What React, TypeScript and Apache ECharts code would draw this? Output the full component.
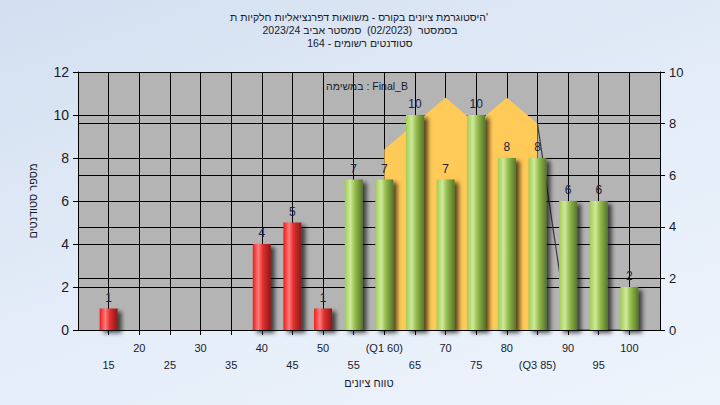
import React, { useEffect, useRef } from "react";
import * as echarts from "echarts";

// ---- data ----
const categories = [15, 20, 25, 30, 35, 40, 45, 50, 55, 60, 65, 70, 75, 80, 85, 90, 95, 100];
const counts = [1, 0, 0, 0, 0, 4, 5, 1, 7, 7, 10, 7, 10, 8, 8, 6, 6, 2];
const tickLabels = ["15", "20", "25", "30", "35", "40", "45", "50", "55", "(Q1 60)", "65", "70", "75", "80", "(Q3 85)", "90", "95", "100"];
const passMark = 55;
const bandX = [60, 65, 70, 75, 80, 85];
const bandValues = [7, 8, 9, 8, 9, 8];
const tailX = [85, 90, 95, 100];
const tailValues = [8, 0, 0, 0];

const titleLines = [
  "היסטוגרמת ציונים בקורס - משוואות דפרנציאליות חלקיות ת'",
  "בסמסטר  (02/2023)  סמסטר אביב 2023/24",
  "סטודנטים רשומים - 164",
];
const subLabel = "במשימה : Final_B";
const xName = "טווח ציונים";
const yName = "מספר סטודנטים";

const FONT = "'Liberation Sans', 'DejaVu Sans', Arial, sans-serif";
const TXT = "#1a1a2a";

const redGrad = new echarts.graphic.LinearGradient(0, 0, 1, 0, [
  { offset: 0, color: "#ee1c1c" },
  { offset: 0.32, color: "#ff7c7c" },
  { offset: 0.55, color: "#e43030" },
  { offset: 1, color: "#8c1818" },
]);
const greenGrad = new echarts.graphic.LinearGradient(0, 0, 1, 0, [
  { offset: 0, color: "#a2cc52" },
  { offset: 0.32, color: "#cfe99c" },
  { offset: 0.58, color: "#94bb4c" },
  { offset: 1, color: "#56762a" },
]);

export default function App() {
  const ref = useRef<HTMLDivElement>(null);
  useEffect(() => {
    if (!ref.current) return;
    const chart = echarts.init(ref.current, undefined, { renderer: "svg" });
    const barData = categories
      .map((c, i) => ({ c, v: counts[i] }))
      .filter((d) => d.v > 0)
      .map((d) => ({
        value: [d.c, d.v],
        itemStyle: { color: d.c < passMark ? redGrad : greenGrad },
      }));
    const lineText = (text: string, x: number, y: number) => ({
      type: "text",
      x,
      y,
      z: 100,
      style: {
        text,
        align: "center",
        verticalAlign: "middle",
        fontSize: 10.5,
        fontFamily: FONT,
        fill: TXT,
      },
    });
    chart.setOption({
      animation: false,
      textStyle: { fontFamily: FONT },
      graphic: [
        lineText(titleLines[0], 359, 17),
        lineText(titleLines[1], 360, 30),
        lineText(titleLines[2], 360, 43),
        lineText(subLabel, 367, 86),
      ],
      grid: {
        left: 78,
        right: 60,
        top: 72,
        bottom: 75,
        show: true,
        backgroundColor: "#b4b4b4",
        borderWidth: 0,
      },
      xAxis: {
        type: "value",
        min: 10,
        max: 105,
        interval: 5,
        name: xName,
        nameLocation: "middle",
        nameGap: 46,
        nameTextStyle: { fontSize: 11, color: TXT, fontFamily: FONT },
        axisLine: { show: true, lineStyle: { color: "#000", width: 1 } },
        axisTick: { show: true, length: 5, lineStyle: { color: "#000" } },
        splitLine: { show: true, lineStyle: { color: "#000", width: 1 } },
        axisLabel: {
          margin: 9,
          fontSize: 11,
          lineHeight: 17,
          color: TXT,
          fontFamily: FONT,
          showMinLabel: false,
          showMaxLabel: false,
          formatter: (v: number) => {
            const idx = categories.indexOf(v);
            if (idx < 0) return "";
            return idx % 2 === 0 ? "\n" + tickLabels[idx] : tickLabels[idx];
          },
        },
      },
      yAxis: [
        {
          type: "value",
          min: 0,
          max: 12,
          interval: 2,
          position: "left",
          name: yName,
          nameLocation: "middle",
          nameRotate: 90,
          nameGap: 40,
          nameTextStyle: { fontSize: 11, color: TXT, fontFamily: FONT },
          axisLine: { show: true, lineStyle: { color: "#000", width: 1 } },
          axisTick: { show: true, length: 5, lineStyle: { color: "#000" } },
          splitLine: { show: true, lineStyle: { color: "#000", width: 1 } },
          axisLabel: { margin: 9, fontSize: 14, color: TXT, fontFamily: FONT },
        },
        {
          type: "value",
          min: 0,
          max: 10,
          interval: 2,
          position: "right",
          axisLine: { show: true, lineStyle: { color: "#000", width: 1 } },
          axisTick: { show: true, length: 5, lineStyle: { color: "#000" } },
          splitLine: { show: true, lineStyle: { color: "#000", width: 1 } },
          axisLabel: { margin: 9, fontSize: 13, color: TXT, fontFamily: FONT },
        },
      ],
      series: [
        {
          type: "line",
          yAxisIndex: 1,
          data: bandX.map((x, i) => [x, bandValues[i]]),
          symbol: "none",
          lineStyle: { width: 0 },
          areaStyle: { color: "#ffca58", opacity: 1 },
          z: 1,
        },
        {
          type: "line",
          yAxisIndex: 1,
          data: tailX.map((x, i) => [x, tailValues[i]]),
          symbol: "none",
          lineStyle: { width: 1.2, color: "#3a3a3a" },
          z: 2,
        },
        {
          type: "bar",
          yAxisIndex: 0,
          barWidth: 18,
          data: barData,
          z: 3,
          itemStyle: {
            shadowColor: "rgba(0,0,0,0.65)",
            shadowBlur: 4,
            shadowOffsetX: 4,
            shadowOffsetY: 3,
          },
          label: {
            show: true,
            position: "top",
            distance: 5,
            fontSize: 12,
            color: "#1c2240",
            fontFamily: FONT,
          },
        },
      ],
    });
    return () => chart.dispose();
  }, []);
  return (
    <div
      ref={ref}
      style={{
        position: "fixed",
        left: 0,
        top: 0,
        width: 720,
        height: 405,
        background: "linear-gradient(160deg, #d3dff0 0%, #e3ecf8 50%, #eef4fc 100%)",
      }}
    />
  );
}
